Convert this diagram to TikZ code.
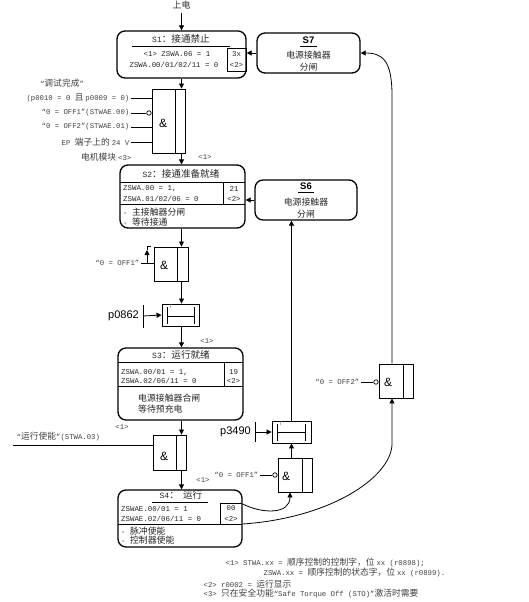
\documentclass[tikz,border=0pt]{standalone}
\usepackage{fontspec}
\setmainfont{Liberation Mono}
\newfontfamily\latinfont{Liberation Mono}
\newfontfamily\cjkfont{Noto Sans CJK SC}[Scale=1.2]
\newfontfamily\arialfont{Liberation Sans}
% switch to the CJK font for Chinese characters
\XeTeXinterchartokenstate=1
\newXeTeXintercharclass\cjkcls
\count255="4E00
\loop \XeTeXcharclass\count255=\cjkcls \ifnum\count255<"9FFF \advance\count255 by 1 \repeat
\XeTeXcharclass"FF1A=\cjkcls \XeTeXcharclass"FF0C=\cjkcls
\XeTeXinterchartoks 0 \cjkcls={\cjkfont}
\XeTeXinterchartoks 4095 \cjkcls={\cjkfont}
\XeTeXinterchartoks \cjkcls 0={\latinfont}
\XeTeXinterchartoks 4095 0={\latinfont}
\newcommand\sansfnt{\XeTeXinterchartokenstate=0\relax\arialfont}
\usetikzlibrary{calc,positioning,arrows.meta}
\tikzset{
  state/.style={rectangle,rounded corners=8pt,draw=black,line width=1.3pt,inner sep=0pt},
  gate/.style={rectangle,draw=black,line width=0.9pt,inner sep=0pt},
  flow/.style={-{Triangle[length=5pt,width=5pt]},line width=0.8pt},
  wire/.style={line width=0.8pt},
  txt/.style={font=\fontsize{7.4}{9}\selectfont,text=black!85,inner sep=0pt},
  ttl/.style={font=\fontsize{8}{10}\selectfont,text=black!85,inner sep=0pt},
  lbl/.style={font=\fontsize{7.3}{9}\selectfont,text=black!75,inner sep=1.5pt},
  amp/.style={font=\sansfnt\fontsize{12}{12}\selectfont,inner sep=0pt},
  pnum/.style={font=\sansfnt\fontsize{11}{11}\selectfont,inner sep=0pt},
  stitle/.style={font=\sansfnt\bfseries\fontsize{9.5}{10}\selectfont,inner sep=0pt},
  tmark/.style={font=\sansfnt\fontsize{5}{5}\selectfont,text=black!60,inner sep=0pt},
  inv/.style={circle,draw,line width=0.7pt,fill=white,minimum size=4.5pt,inner sep=0pt},
}
\begin{document}
\begin{tikzpicture}[x=1pt,y=-1pt]
\useasboundingbox (0,0) rectangle (529,602);

\node[txt](pwr) at (181.5,5){上电};

% S1
\node[state,minimum width=129pt,minimum height=47pt](s1) at (181.5,54.5){};
\node[ttl] at (181,39){S1：接通禁止};
\draw[wire] (132,46) -- (230,46);
\node[txt] at (177,54){<1> ZSWA.06 = 1};
\node[txt] at (174,65){ZSWA.00/01/02/11 = 0};
\draw[wire] (227,48) rectangle (246,71);
\node[txt] at (236.5,54){3x};
\node[txt] at (236.5,65){<2>};
\draw[flow] ([yshift=-4pt]pwr.south) -- (s1.north);

% S7
\node[state,minimum width=103pt,minimum height=40pt](s7) at (308.5,53){};
\node[stitle] at (308.5,40){S7};
\draw[wire] (300,46.5) -- (317,46.5);
\node[txt] at (308.5,55){电源接触器};
\node[txt] at (308.5,67){分闸};
\draw[flow] (s7.west) -- (s1.east |- s7.west);

% gate after S1
\node[gate,minimum width=33pt,minimum height=64pt](g1) at (168.5,121){};
\draw[wire] (175,89) -- (175,153);
\node[amp] at (163,123){\&};
\node[lbl] at (62,83){“调试完成”};
\node[lbl,anchor=east](i1) at (131,98){(p0010 = 0 且 p0009 = 0)};
\node[lbl,anchor=east](i2) at (131,113){“0 = OFF1”(STWAE.00)};
\node[lbl,anchor=east](i3) at (131,127){“0 = OFF2”(STWAE.01)};
\node[lbl,anchor=east](i4) at (131,142){EP 端子上的 24 V};
\node[lbl,anchor=east] at (133,157){电机模块 <3>};
\node[inv,anchor=east](b1) at (g1.west |- i2.east){};
\draw[wire] (i1.east) -- (i1.east -| g1.west);
\draw[wire] (i2.east) -- (b1.west);
\draw[wire] (i3.east) -- (i3.east -| g1.west);
\draw[wire] (i4.east) -- (i4.east -| g1.west);
\draw[flow] (s1.south) -- (s1.south |- g1.north);
\node[lbl] at (205,157){<1>};

% S2
\node[state,minimum width=125pt,minimum height=63pt](s2) at (182.5,196.5){};
\node[ttl] at (181,174){S2：接通准备就绪};
\draw[wire] (120,182) -- (245,182);
\draw[wire] (120,204) -- (245,204);
\draw[wire] (223,182) -- (223,204);
\node[txt,anchor=west] at (123,189){ZSWA.00 = 1,};
\node[txt,anchor=west] at (123,199){ZSWA.01/02/06 = 0};
\node[txt] at (234,189){21};
\node[txt] at (234,199){<2>};
\node[txt,anchor=west] at (123,212){- 主接触器分闸};
\node[txt,anchor=west] at (123,222){- 等待接通};
\draw[flow] (s1.south |- g1.south) -- (s1.south |- s2.north);

% S6
\node[state,minimum width=102pt,minimum height=40pt](s6) at (306,200){};
\node[stitle] at (306,186){S6};
\draw[wire] (298,192.5) -- (314,192.5);
\node[txt] at (306,202){电源接触器};
\node[txt] at (306,214){分闸};
\draw[flow] (s6.west) -- (s2.east |- s6.west);

% gate OFF1 after S2
\node[gate,minimum width=34pt,minimum height=34pt](g2) at (171,264){};
\draw[wire] (177,247) -- (177,281);
\node[amp] at (164,265){\&};
\node[lbl,anchor=east](o1) at (141,263){“0 = OFF1”};
\draw[wire] (o1.east) -- (o1.east -| g2.west);
\draw[flow] (147,263) -- (147,250);
\draw[wire] (147,250) -- (147,246) -- (151,246);
\draw[flow] (s1.south |- s2.south) -- (s1.south |- g2.north);

% timer p0862
\node[gate,minimum width=37pt,minimum height=22pt](t1) at (180.5,315){};
\draw[wire] (167,307) -- (167,324) (194,307) -- (194,324) (167,316) -- (194,316);
\node[tmark] at (171,307){T};
\node[pnum,anchor=east](p1) at (139,316){p0862};
\coordinate (k1) at (143,316);
\draw[wire] ($(k1)+(0,-11)$) -- ($(k1)+(0,12)$);
\draw[flow] (k1) -- (t1.west);
\draw[flow] (s1.south |- g2.south) -- (s1.south |- t1.north);
\node[lbl] at (207,341){<1>};

% S3
\node[state,minimum width=125pt,minimum height=72pt](s3) at (180.5,384){};
\node[ttl] at (181,355){S3：运行就绪};
\draw[wire] (118,362) -- (243,362);
\draw[wire] (118,386) -- (243,386);
\draw[wire] (224,362) -- (224,386);
\node[txt,anchor=west] at (121,372){ZSWA.00/01 = 1,};
\node[txt,anchor=west] at (121,381){ZSWA.02/06/11 = 0};
\node[txt] at (233.5,372){19};
\node[txt] at (233.5,381){<2>};
\node[txt,anchor=west] at (138,398){电源接触器合闸};
\node[txt,anchor=west] at (138,409){等待预充电};
\draw[flow] (s1.south |- t1.south) -- (s1.south |- s3.north);

% gate OFF2
\node[gate,minimum width=34pt,minimum height=34pt](g5) at (396,381){};
\draw[wire] (403,364) -- (403,398);
\node[amp] at (388,382){\&};
\node[lbl,anchor=east](o2) at (361,382){“0 = OFF2”};
\node[inv,anchor=east](b5) at (g5.west |- o2.east){};
\draw[wire] (o2.east) -- (b5.west);
\draw[flow] ($(g5.north)+(-4,0)$) -- ++(0,-268)
  .. controls ++(0,-35) and ($(s7.east)+(22,0)$) .. (s7.east);

% timer p3490
\node[gate,minimum width=39pt,minimum height=22pt](t2) at (291.5,432){};
\draw[wire] (277,424) -- (277,441) (305,424) -- (305,441) (277,432) -- (305,432);
\node[tmark] at (281,424){T};
\node[pnum,anchor=east](p2) at (251,432){p3490};
\coordinate (k2) at (255,432);
\draw[wire] ($(k2)+(0,-10)$) -- ($(k2)+(0,10)$);
\draw[flow] (k2) -- (t2.west);
\draw[flow] (t2.north) -- (t2.north |- s6.south);

% gate run enable
\node[gate,minimum width=33pt,minimum height=35pt](g4) at (169.5,452.5){};
\draw[wire] (176,435) -- (176,470);
\node[amp] at (164,456){\&};
\node[lbl,anchor=south west] at (15,443){“运行使能”(STWA.03)};
\coordinate (r0) at (13,445);
\draw[wire] (r0) -- (r0 -| g4.west);
\node[lbl] at (122,427){<1>};
\draw[flow] (s1.south |- s3.south) -- (s1.south |- g4.north);

% gate OFF1 after S4
\node[gate,minimum width=34pt,minimum height=34pt](g3) at (295,475){};
\draw[wire] (302,458) -- (302,492);
\node[amp] at (286,476){\&};
\node[lbl,anchor=east](o3) at (260,475){“0 = OFF1”};
\node[inv,anchor=east](b3) at (g3.west |- o3.east){};
\draw[wire] (o3.east) -- (b3.west);
\draw[flow] (t2.south |- g3.north) -- (t2.south);

% S4
\node[state,minimum width=124pt,minimum height=57pt](s4) at (180,518.5){};
\node[ttl] at (181,495){S4：\ \ 运行};
\draw[wire] (152,502) -- (208,502);
\draw[wire] (220,503) -- (242,503);
\draw[wire] (220,503) -- (220,524);
\draw[wire] (118,524) -- (242,524);
\node[txt,anchor=west] at (121,509){ZSWAE.00/01 = 1};
\node[txt,anchor=west] at (121,519){ZSWAE.02/06/11 = 0};
\node[txt] at (231,508.5){00};
\node[txt] at (231,519){<2>};
\node[txt,anchor=west] at (121,531){- 脉冲使能};
\node[txt,anchor=west] at (121,540){- 控制器使能};
\draw[flow] (s1.south |- g4.south) -- (s1.south |- s4.north);
\node[lbl] at (203,480){<1>};
\draw[flow] (s4.east |- 0,504) .. controls +(20,10) and +(0,22) .. ($(g3.south)+(-5,0)$);
\draw[flow] (s4.east |- 0,524) .. controls (330,518) and (390,478) .. (392,445)
  -- ($(g5.south)+(-4,0)$);

% notes
\node[lbl,anchor=west] at (224,563){<1> STWA.xx = 顺序控制的控制字，位 xx (r0898);};
\node[lbl,anchor=west] at (262,573){ZSWA.xx = 顺序控制的状态字，位 xx (r0899).};
\node[lbl,anchor=west] at (202,584){<2> r0002 = 运行显示};
\node[lbl,anchor=west] at (202,594){<3> 只在安全功能“Safe Torque Off (STO)”激活时需要};
\end{tikzpicture}
\end{document}
